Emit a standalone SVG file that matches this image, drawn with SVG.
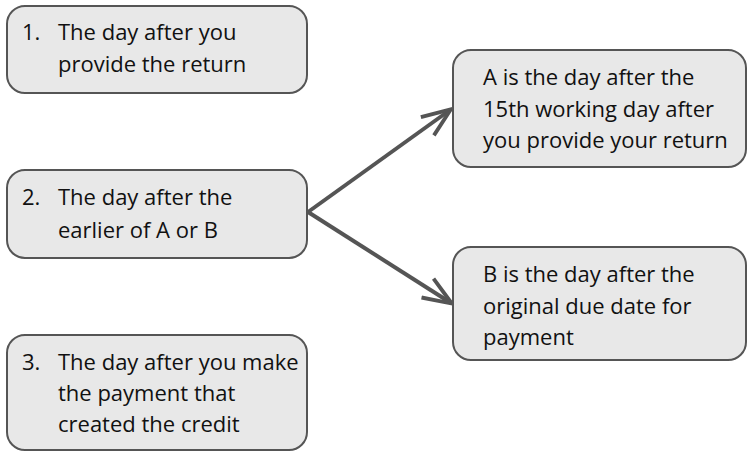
<svg xmlns="http://www.w3.org/2000/svg" width="748" height="452" viewBox="0 0 748 452">
<defs>
<style>
.box{fill:#e8e8e8;stroke:#555;stroke-width:2}
text{font-family:"Open Sans","Liberation Sans",sans-serif;font-size:22px;fill:#111}
.conn{stroke:#555;stroke-width:4;fill:none;stroke-linecap:butt}
</style>
<marker id="arr" viewBox="0 0 10 10" refX="9" refY="5" markerWidth="8" markerHeight="8" orient="auto" markerUnits="strokeWidth">
<path d="M0.3,1.5 L9.3,5 L0.3,8.5" fill="none" stroke="#555" stroke-width="1.2"/>
</marker>
</defs>
<g id="n1"><rect class="box" x="7" y="6" width="300" height="87" rx="18"/>
<text x="22" y="40">1.</text><text x="58" y="40">The day after you</text><text x="58" y="72">provide the return</text></g>
<g id="n2"><rect class="box" x="7" y="170" width="300" height="88" rx="18"/>
<text x="22" y="205">2.</text><text x="58" y="205">The day after the</text><text x="58" y="238">earlier of A or B</text></g>
<g id="n3"><rect class="box" x="7" y="335" width="300" height="115" rx="18"/>
<text x="22" y="370">3.</text><text x="58" y="370">The day after you make</text><text x="58" y="401">the payment that</text><text x="58" y="432">created the credit</text></g>
<g id="nA"><rect class="box" x="453" y="50" width="293" height="117" rx="18"/>
<text x="483" y="85">A is the day after the</text><text x="483" y="117">15th working day after</text><text x="483" y="148">you provide your return</text></g>
<g id="nB"><rect class="box" x="453" y="247" width="293" height="113" rx="18"/>
<text x="483" y="282">B is the day after the</text><text x="483" y="314">original due date for</text><text x="483" y="345">payment</text></g>
<g id="connectors">
<path class="conn" d="M308,212 L450,110" marker-end="url(#arr)"/>
<path class="conn" d="M308,212 L451,303" marker-end="url(#arr)"/>
</g>
</svg>
